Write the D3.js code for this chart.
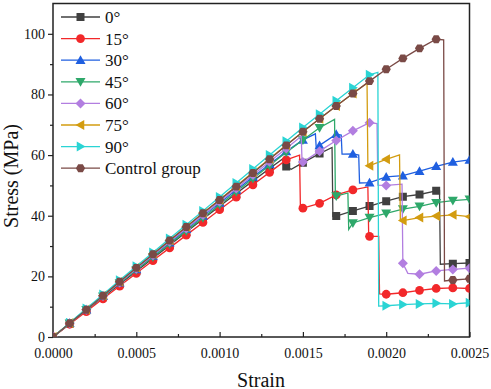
<!DOCTYPE html>
<html>
<head>
<meta charset="utf-8">
<script src="https://cdn.jsdelivr.net/npm/d3@7"></script>
<style>
  body { margin: 0; background: #fff; }
  svg text { font-family: "Liberation Serif", "Times New Roman", serif; fill: #111; }
</style>
</head>
<body>
<svg id="chart" width="491" height="389"></svg>
<script>
// strain values written as n e-4, stress in MPa
const deg0 = [[0,0],[1e-4,4.4],[2e-4,8.8],[3e-4,13.1],[4e-4,17.4],[5e-4,21.7],[6e-4,26.0],[7e-4,30.3],[8e-4,34.6],[9e-4,38.9],[10e-4,43.1],[11e-4,47.3],[12e-4,51.5],[13e-4,55.6],[13.8e-4,58.8],[13.85e-4,55.8],[14e-4,56.2],[14.3e-4,55.3],[15e-4,57.5],[16e-4,60.5],[16.75e-4,62.5],[16.8e-4,39.8],[17e-4,39.9],[18e-4,41.6],[19e-4,43.2],[20e-4,44.8],[21e-4,46.3],[22e-4,47.0],[23e-4,48.2],[23.2e-4,48.3],[23.25e-4,24.0],[24e-4,24.2],[25e-4,24.4]];
const deg15 = [[0,0],[1e-4,4.2],[2e-4,8.4],[3e-4,12.6],[4e-4,16.8],[5e-4,21.0],[6e-4,25.2],[7e-4,29.4],[8e-4,33.6],[9e-4,37.8],[10e-4,42.0],[11e-4,46.1],[12e-4,50.2],[13e-4,54.3],[14e-4,58.4],[14.8e-4,60.0],[14.85e-4,42.6],[15e-4,42.5],[16e-4,44.1],[17e-4,46.9],[18e-4,48.5],[18.9e-4,49.5],[18.95e-4,33.2],[19e-4,33.2],[19.55e-4,33.2],[19.6e-4,14.2],[20e-4,14.1],[21e-4,14.6],[22e-4,15.4],[23e-4,16.0],[24e-4,16.2],[25e-4,16.0]];
const deg30 = [[0,0],[1e-4,4.5],[2e-4,9.0],[3e-4,13.4],[4e-4,17.9],[5e-4,22.3],[6e-4,26.7],[7e-4,31.1],[8e-4,35.5],[9e-4,39.9],[10e-4,44.2],[11e-4,48.5],[12e-4,52.8],[13e-4,57.0],[14e-4,61.2],[15e-4,65.0],[15.75e-4,67.0],[15.8e-4,62.5],[16e-4,63.2],[17e-4,66.9],[17.3e-4,66.6],[17.35e-4,60.3],[18e-4,60.4],[18.35e-4,60.0],[18.4e-4,50.8],[19e-4,50.9],[20e-4,52.8],[21e-4,53.2],[22e-4,54.7],[23e-4,56.3],[24e-4,57.7],[25e-4,58.4]];
const deg45 = [[0,0],[1e-4,4.5],[2e-4,9.0],[3e-4,13.4],[4e-4,17.8],[5e-4,22.1],[6e-4,26.4],[7e-4,30.7],[8e-4,35.0],[9e-4,39.3],[10e-4,43.6],[11e-4,47.9],[12e-4,52.3],[13e-4,56.6],[14e-4,60.9],[15e-4,65.0],[16e-4,69.0],[16.9e-4,71.8],[16.95e-4,46.5],[17e-4,46.5],[17.7e-4,47.5],[17.75e-4,35.5],[18e-4,37.6],[19e-4,39.4],[20e-4,40.8],[21e-4,42.2],[22e-4,43.1],[23e-4,44.3],[24e-4,45.0],[25e-4,45.4]];
const deg60 = [[0,0],[1e-4,4.5],[2e-4,9.0],[3e-4,13.5],[4e-4,18.0],[5e-4,22.5],[6e-4,27.0],[7e-4,31.4],[8e-4,35.8],[9e-4,40.2],[10e-4,44.6],[11e-4,49.0],[12e-4,53.4],[13e-4,57.8],[14e-4,62.2],[14.9e-4,66.2],[14.95e-4,57.7],[15e-4,57.7],[16e-4,61.3],[17e-4,64.8],[18e-4,68.0],[19e-4,70.7],[19.45e-4,70.4],[19.5e-4,50.1],[20e-4,50.0],[20.95e-4,50.4],[21e-4,24.3],[21.3e-4,21.0],[22e-4,20.7],[23e-4,21.8],[24e-4,22.3],[25e-4,22.7]];
const deg75 = [[0,0],[1e-4,4.6],[2e-4,9.1],[3e-4,13.7],[4e-4,18.3],[5e-4,22.9],[6e-4,27.4],[7e-4,31.9],[8e-4,36.4],[9e-4,40.9],[10e-4,45.3],[11e-4,49.8],[12e-4,54.3],[13e-4,58.8],[14e-4,63.3],[15e-4,67.7],[16e-4,72.0],[17e-4,76.2],[18e-4,80.3],[18.85e-4,83.7],[18.9e-4,56.5],[19e-4,56.5],[20e-4,58.6],[20.8e-4,60.1],[20.85e-4,38.5],[21e-4,38.4],[22e-4,39.4],[23e-4,39.9],[24e-4,40.3],[25e-4,39.7]];
const deg90 = [[0,0],[1e-4,4.7],[2e-4,9.4],[3e-4,14.0],[4e-4,18.7],[5e-4,23.3],[6e-4,27.9],[7e-4,32.5],[8e-4,37.0],[9e-4,41.6],[10e-4,46.2],[11e-4,50.8],[12e-4,55.4],[13e-4,60.0],[14e-4,64.6],[15e-4,69.1],[16e-4,73.5],[17e-4,77.9],[18e-4,82.2],[19e-4,86.5],[19.5e-4,87.3],[19.55e-4,10.2],[20e-4,10.3],[21e-4,10.7],[22e-4,10.9],[23e-4,11.1],[24e-4,10.9],[25e-4,11.3]];
const control = [[0,0],[1e-4,4.5],[2e-4,9.0],[3e-4,13.6],[4e-4,18.2],[5e-4,22.8],[6e-4,27.3],[7e-4,31.8],[8e-4,36.3],[9e-4,40.8],[10e-4,45.2],[11e-4,49.6],[12e-4,54.1],[13e-4,58.6],[14e-4,63.2],[15e-4,67.7],[16e-4,72.0],[17e-4,76.2],[18e-4,80.3],[19e-4,84.4],[20e-4,88.3],[21e-4,91.9],[22e-4,95.2],[23e-4,98.2],[23.45e-4,98.0],[23.5e-4,18.5],[24e-4,18.8],[25e-4,19.2]];

const names = ['0°','15°','30°','45°','60°','75°','90°','Control group'];
const colors = ['#404040','#f2282a','#1f5fe0','#2ea86a','#b27ee0','#d39c10','#2ad4d4','#7a4a46'];
const shapes = ['square','circle','up','down','diamond','left','right','hex'];
const allSeries = [deg0, deg15, deg30, deg45, deg60, deg75, deg90, control];

const xTicks = [0, 0.0005, 0.001, 0.0015, 0.002, 0.0025];
const yTicks = [0, 20, 40, 60, 80, 100];

const margin = {top: 3.5, right: 21.5, bottom: 52, left: 53};
const width = 491, height = 389;
const svg = d3.select('#chart');
const serif = '"Liberation Serif", "Times New Roman", serif';

const x = d3.scaleLinear().domain([0, 0.0025]).range([margin.left, width - margin.right]);
const y = d3.scaleLinear().domain([0, 110]).range([height - margin.bottom, margin.top]);

// axes
let xAxis = d3.axisBottom(x).tickValues(xTicks).tickFormat(d3.format('.4f')).tickSizeInner(-5).tickSizeOuter(0).tickPadding(11);
let xMinor = d3.axisBottom(x).tickValues(d3.range(0.00025, 0.0025, 0.0005)).tickFormat('').tickSizeInner(-3).tickSizeOuter(0);
let yAxis = d3.axisLeft(y).tickValues(yTicks).tickSizeInner(5).tickSizeOuter(0).tickPadding(3);
let yMinor = d3.axisLeft(y).tickValues(d3.range(10, 110, 20)).tickFormat('').tickSizeInner(3).tickSizeOuter(0);

svg.append('g').attr('transform', 'translate(0,' + y(0) + ')').call(xAxis);
svg.append('g').attr('transform', 'translate(0,' + y(0) + ')').call(xMinor);
svg.append('g').attr('transform', 'translate(' + x(0) + ',0)').call(yAxis);
svg.append('g').attr('transform', 'translate(' + x(0) + ',0)').call(yMinor);
svg.selectAll('.domain').remove();
svg.selectAll('.tick line').attr('stroke', '#222').attr('stroke-width', 1.2);
svg.selectAll('.tick text').style('font-size', '14px').style('font-family', serif).attr('fill', '#111');

// frame
svg.append('rect')
    .attr('x', x(0)).attr('y', y(110))
    .attr('width', x(0.0025) - x(0)).attr('height', y(0) - y(110))
    .attr('fill', 'none').attr('stroke', '#222').attr('stroke-width', 1.5);

svg.append('defs').append('clipPath').attr('id', 'clip')
    .append('rect')
    .attr('x', x(0)).attr('y', y(110))
    .attr('width', x(0.0025) - x(0)).attr('height', y(0) - y(110));

function symbolPath(shape, r) {
    if (shape == 'square') return 'M' + (-r) + ',' + (-r) + 'h' + 2*r + 'v' + 2*r + 'h' + (-2*r) + 'Z';
    if (shape == 'circle') return d3.symbol(d3.symbolCircle, Math.PI * r * r * 1.2)();
    let pts;
    let k = r * 1.25;
    if (shape == 'up') pts = [[0,-k],[k,k*0.75],[-k,k*0.75]];
    if (shape == 'down') pts = [[0,k],[k,-k*0.75],[-k,-k*0.75]];
    if (shape == 'left') pts = [[-k,0],[k*0.75,-k],[k*0.75,k]];
    if (shape == 'right') pts = [[k,0],[-k*0.75,-k],[-k*0.75,k]];
    if (shape == 'diamond') pts = [[0,-k],[k,0],[0,k],[-k,0]];
    if (shape == 'hex') pts = d3.range(6).map(i => [r*1.15*Math.cos(i*Math.PI/3), r*1.15*Math.sin(i*Math.PI/3)]);
    return 'M' + pts.map(p => p.join(',')).join('L') + 'Z';
}

const line = d3.line().x(d => x(d[0])).y(d => y(d[1]));
const plot = svg.append('g').attr('clip-path', 'url(#clip)');

allSeries.forEach((data, i) => {
    let g = plot.append('g');
    g.append('path')
        .datum(data)
        .attr('d', line)
        .attr('fill', 'none')
        .attr('stroke', colors[i])
        .attr('stroke-width', 1.3);
    // markers sit on every 0.0001 of strain
    let marked = data.filter(d => Math.abs(d[0]*1e4 - Math.round(d[0]*1e4)) < 1e-6);
    g.selectAll('path.m').data(marked).enter().append('path')
        .attr('class', 'm')
        .attr('transform', d => 'translate(' + x(d[0]) + ',' + y(d[1]) + ')')
        .attr('d', symbolPath(shapes[i], 4))
        .attr('fill', colors[i]);
});

// legend
const legend = svg.append('g');
names.forEach((n, i) => {
    let ly = 17 + i * 21.6;
    legend.append('line')
        .attr('x1', 61).attr('x2', 100).attr('y1', ly).attr('y2', ly)
        .attr('stroke', colors[i]).attr('stroke-width', 1.3);
    legend.append('path')
        .attr('transform', 'translate(80.5,' + ly + ')')
        .attr('d', symbolPath(shapes[i], 4))
        .attr('fill', colors[i]);
    legend.append('text')
        .attr('x', 105).attr('y', ly + 6)
        .style('font-size', '17px')
        .text(n);
});

// axis titles
svg.append('text')
    .attr('x', 261).attr('y', 386.5)
    .attr('text-anchor', 'middle')
    .style('font-size', '20px')
    .text('Strain');
svg.append('text')
    .attr('text-anchor', 'middle')
    .attr('transform', 'translate(17.5,176) rotate(-90)')
    .style('font-size', '20px')
    .text('Stress (MPa)');
</script>
</body>
</html>
